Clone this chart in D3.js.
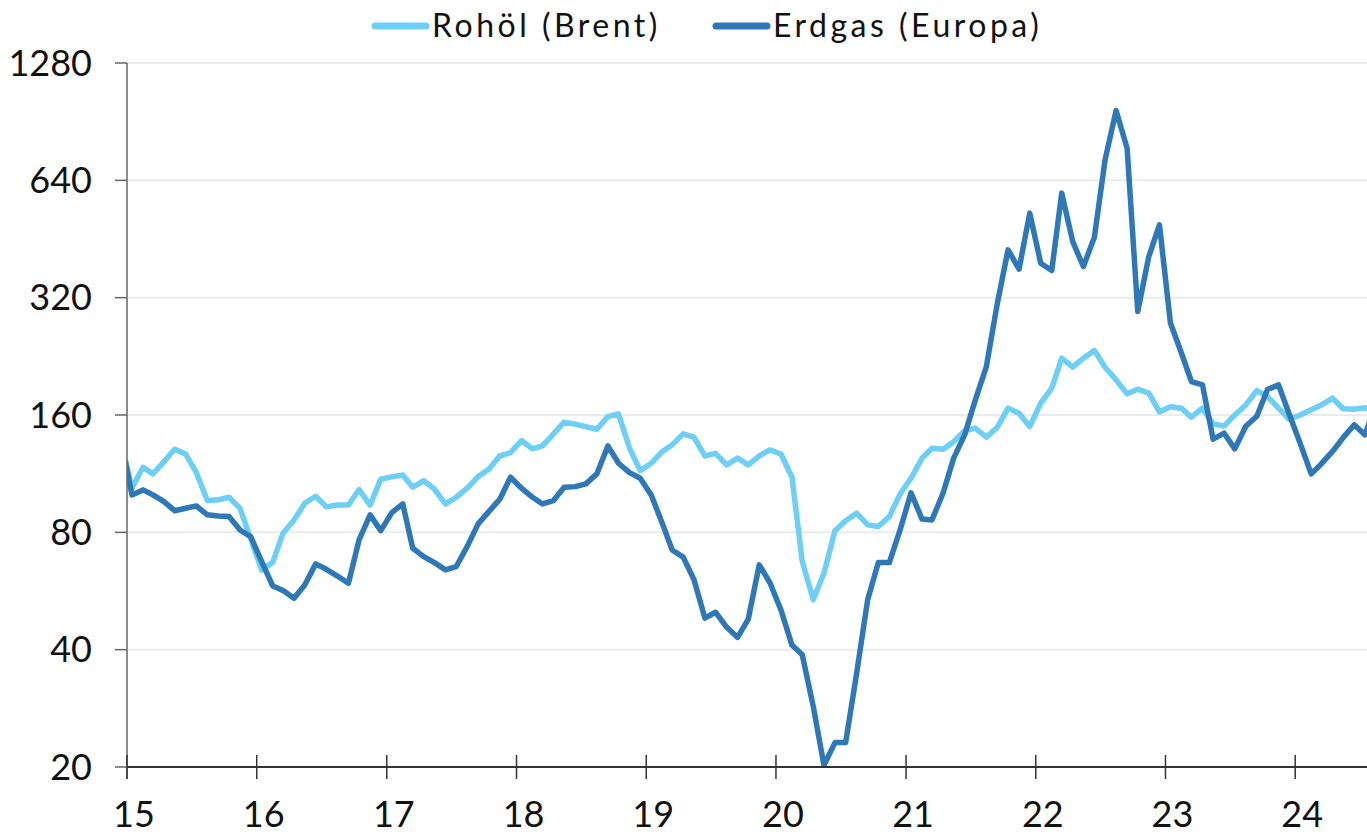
<!DOCTYPE html>
<html>
<head>
<meta charset="utf-8">
<script src="https://cdn.jsdelivr.net/npm/d3@7"></script>
<style>
  body { margin: 0; background: #fff; }
  text { font-family: Lato, "Open Sans", sans-serif; fill: #111; }
</style>
</head>
<body>
<script>
// monthly values, first value = Dec 2014, last = Aug 2024
var startYear = 2014, startMonth = 11;

var brent = [137,
  104, 117.5, 113, 121.5, 130.7, 127, 114, 96.5, 97, 98.4, 92.2, 77,
  64, 67, 79.6, 86, 95, 99, 93, 94, 94, 103, 94, 109.5,
  111, 112.3, 104.4, 108.6, 103.2, 94.6, 98.4, 103.8, 111.2, 116.2, 125.6, 128.1,
  137.6, 131, 133.3, 143.1, 153.4, 151.6, 149.4, 147.1, 158.5, 161, 131.5, 115.2,
  120.3, 128.9, 134.1, 143.1, 140.3, 125.6, 127.6, 119.2, 124, 119.2, 125.6, 130.2,
  127.1, 110.8, 67.3, 53.7, 62.8, 80.8, 85.7, 89.6, 83.6, 82.8, 87.8, 100.3,
  110.1, 124, 131.5, 130.7, 136.7, 145.9, 148, 140.3, 148.9, 166.6, 161.7, 149.4,
  171.5, 187.4, 223.8, 212.2, 223.8, 234.1, 212.2, 196.9, 181.3, 186.4, 182, 163,
  168, 166.6, 157.9, 166.6, 151.8, 150, 160, 169.8, 184.8, 178.4, 166.6, 156,
  160, 165, 169.8, 176.7, 166, 165.6, 167, 163];

var gas = [138,
  99.8, 102.8, 99.8, 95.9, 90.9, 92.2, 93.5, 88.7, 88.1, 87.8, 81.1, 78,
  67.3, 58.3, 56.7, 54.2, 58.6, 66.4, 64.3, 61.8, 59.2, 76.5, 88.7, 80.8,
  89.9, 94.6, 72.8, 69.3, 66.9, 64.1, 65.3, 73.5, 84.1, 90.4, 97.3, 110.8,
  103.8, 98.4, 94.6, 96.5, 104.4, 104.8, 106.5, 113, 133.3, 120.3, 113.8, 110.1,
  99.8, 84.4, 72.1, 69.1, 60.6, 48.2, 49.9, 45.7, 43, 47.9, 66, 59.4,
  50.6, 41.1, 38.8, 28.6, 20.2, 23.1, 23.1, 34.8, 53.7, 66.9, 66.9, 81,
  101, 86.5, 86.1, 100.8, 124, 142.3, 174.9, 213, 309.8, 424.5, 378.8, 527.2,
  392.3, 375.6, 593.4, 445.7, 384.6, 457.6, 722.5, 966.8, 774, 294.8, 407.9, 492.1,
  275.5, 230.5, 195, 191.2, 138.7, 143.7, 131, 149.7, 158.8, 186, 191.2, 161,
  135.3, 113, 120, 129, 140, 151, 142.3, 170];

var yTicks = [20, 40, 80, 160, 320, 640, 1280];
var xTickYears = [2015, 2016, 2017, 2018, 2019, 2020, 2021, 2022, 2023, 2024];

var series = [
  {name: 'Rohöl (Brent)', values: brent, color: '#6dcff6'},
  {name: 'Erdgas (Europa)', values: gas, color: '#2e78b7'}
];

var width = 1367, height = 834;
var plotLeft = 127, plotRight = 1367, plotTop = 63, plotBottom = 767;

function monthDate(i) {
  return new Date(startYear, startMonth + i, 15);
}

var x = d3.scaleTime()
  .domain([new Date(2015, 0, 1), new Date(2024, 6, 21)])
  .range([plotLeft, plotRight]);

var y = d3.scaleLog().base(2)
  .domain([20, 1280])
  .range([plotBottom, plotTop]);

var svg = d3.select('body').append('svg')
  .attr('width', width)
  .attr('height', height);

svg.append('defs').append('clipPath').attr('id', 'plot')
  .append('rect')
  .attr('x', plotLeft).attr('y', 0)
  .attr('width', plotRight - plotLeft).attr('height', height);

// gridlines
svg.selectAll('line.grid')
  .data(yTicks.slice(1))
  .enter().append('line')
  .attr('class', 'grid')
  .attr('x1', plotLeft).attr('x2', plotRight)
  .attr('y1', function(d){ return y(d); })
  .attr('y2', function(d){ return y(d); })
  .style('stroke', '#ebebeb')
  .style('stroke-width', 2);

// y axis
svg.append('line')
  .attr('x1', plotLeft).attr('x2', plotLeft)
  .attr('y1', plotTop).attr('y2', plotBottom + 12)
  .style('stroke', '#8a8a8a')
  .style('stroke-width', 2);

svg.selectAll('line.ytick')
  .data(yTicks)
  .enter().append('line')
  .attr('class', 'ytick')
  .attr('x1', plotLeft - 12).attr('x2', plotLeft)
  .attr('y1', function(d){ return y(d); })
  .attr('y2', function(d){ return y(d); })
  .style('stroke', '#666')
  .style('stroke-width', 1.5);

svg.selectAll('text.ylab')
  .data(yTicks)
  .enter().append('text')
  .attr('class', 'ylab')
  .attr('x', 92)
  .attr('y', function(d){ return y(d); })
  .attr('dy', '0.35em')
  .attr('text-anchor', 'end')
  .style('font-size', '36px')
  .text(function(d){ return d; });

// lines
var line = d3.line()
  .x(function(d, i){ return x(monthDate(i)); })
  .y(function(d){ return y(d); });

var g = svg.append('g').attr('clip-path', 'url(#plot)');
g.selectAll('path')
  .data(series)
  .enter().append('path')
  .attr('d', function(d){ return line(d.values); })
  .style('fill', 'none')
  .style('stroke', function(d){ return d.color; })
  .style('stroke-width', 5.5)
  .style('stroke-linejoin', 'round');

// x axis
svg.append('line')
  .attr('x1', plotLeft).attr('x2', plotRight)
  .attr('y1', plotBottom).attr('y2', plotBottom)
  .style('stroke', '#333')
  .style('stroke-width', 2);

svg.selectAll('line.xtick')
  .data(xTickYears)
  .enter().append('line')
  .attr('class', 'xtick')
  .attr('x1', function(d){ return x(new Date(d, 0, 1)); })
  .attr('x2', function(d){ return x(new Date(d, 0, 1)); })
  .attr('y1', plotBottom - 12).attr('y2', plotBottom + 12)
  .style('stroke', '#333')
  .style('stroke-width', 1.5);

svg.selectAll('text.xlab')
  .data(xTickYears)
  .enter().append('text')
  .attr('class', 'xlab')
  .attr('x', function(d){ return x(new Date(d, 0, 1)) + 7; })
  .attr('y', 827)
  .attr('text-anchor', 'middle')
  .style('font-size', '36px')
  .text(function(d){ return String(d).slice(2); });

// legend
var legendX = [372, 713];
var leg = svg.selectAll('g.legend')
  .data(series)
  .enter().append('g')
  .attr('class', 'legend')
  .attr('transform', function(d, i){ return 'translate(' + legendX[i] + ',0)'; });

leg.append('line')
  .attr('x1', 3).attr('x2', 54)
  .attr('y1', 26).attr('y2', 26)
  .style('stroke', function(d){ return d.color; })
  .style('stroke-width', 7)
  .style('stroke-linecap', 'round');

leg.append('text')
  .attr('x', 60)
  .attr('y', 37)
  .style('font-size', '32px')
  .style('letter-spacing', '3.5px')
  .text(function(d){ return d.name; });
</script>
</body>
</html>
